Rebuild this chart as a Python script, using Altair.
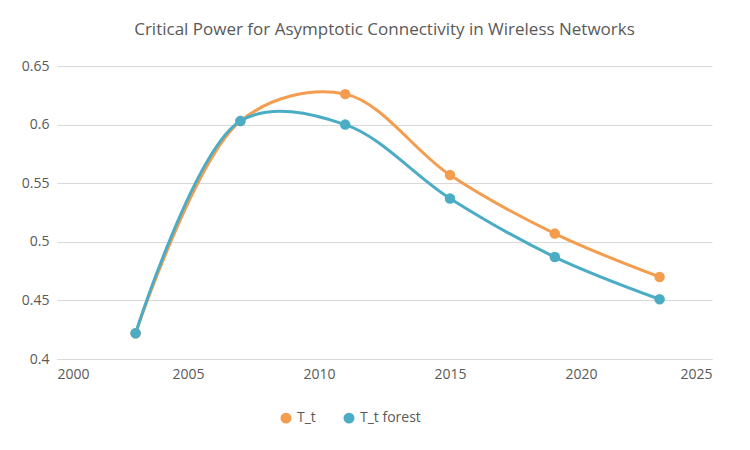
import altair as alt
import pandas as pd

years = [2003, 2007, 2011, 2015, 2019, 2023]
t_t = [0.422, 0.603, 0.626, 0.557, 0.507, 0.470]
t_forest = [0.422, 0.603, 0.600, 0.537, 0.487, 0.451]
series = ["T_t", "T_t forest"]
colors = ["#F59D4E", "#4BACC6"]

df = pd.concat([
    pd.DataFrame({"year": years, "value": t_t, "series": series[0]}),
    pd.DataFrame({"year": years, "value": t_forest, "series": series[1]}),
])

x = alt.X("year:Q", scale=alt.Scale(domain=[2000, 2025]),
          axis=alt.Axis(values=[2000, 2005, 2010, 2015, 2020, 2025], format="d", grid=False,
                        title=None, tickSize=0, labelPadding=8, domainColor="#d9d9d9",
                        labelFontSize=14, labelColor="#595959"))
y = alt.Y("value:Q", scale=alt.Scale(domain=[0.4, 0.65]),
          axis=alt.Axis(values=[0.4, 0.45, 0.5, 0.55, 0.6, 0.65], title=None, domain=False,
                        ticks=False, labelPadding=8, gridColor="#d9d9d9",
                        labelFontSize=14, labelColor="#595959",
                        labelExpr="datum.value == 0.6 ? '0.6' : datum.value == 0.5 ? '0.5' : datum.value == 0.4 ? '0.4' : format(datum.value, '.2f')"))
color = alt.Color("series:N", scale=alt.Scale(domain=series, range=colors),
                  legend=alt.Legend(orient="none", legendX=222, legendY=345, title=None,
                                    symbolType="circle",
                                    labelFontSize=14, labelColor="#595959", symbolSize=90,
                                    direction="horizontal", columnPadding=25))

base = alt.Chart(df).encode(x=x, y=y, color=color)
lines = base.mark_line(interpolate="catmull-rom", strokeWidth=3)
pts = base.mark_point(filled=True, size=110, opacity=1)

chart = (lines + pts).properties(
    width=655, height=293,
    title=alt.TitleParams("Critical Power for Asymptotic Connectivity in Wireless Networks",
                          fontSize=17, fontWeight="normal", color="#595959", offset=20),
    autosize=alt.AutoSizeParams(type="none"),
    padding={"left": 49, "top": 58, "right": 30, "bottom": 83},
).configure(font="Open Sans").configure_view(stroke=None)

chart.save("out.html", embed_options={"renderer": "svg", "actions": False})
